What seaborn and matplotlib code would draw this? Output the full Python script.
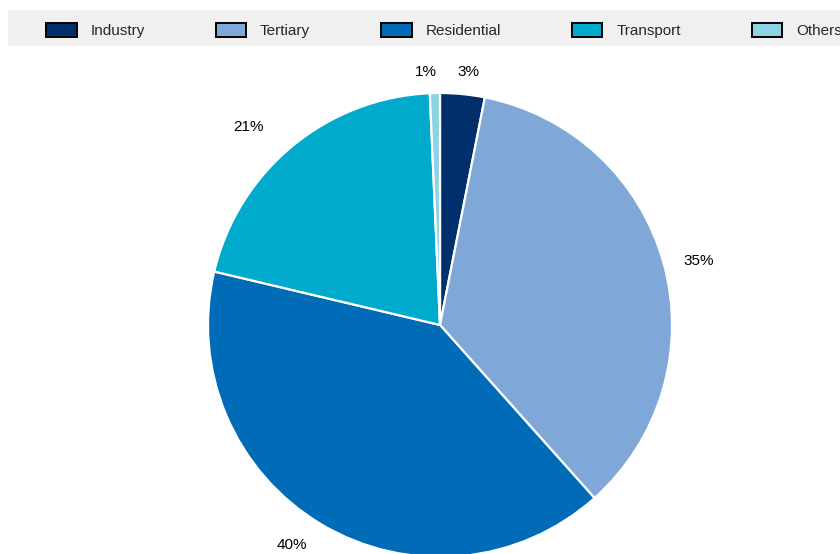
import matplotlib
matplotlib.use("Agg")
import matplotlib.pyplot as plt
from matplotlib.patches import Rectangle, Patch
import seaborn as sns

# Sector shares (%)
sectors = ["Industry", "Tertiary", "Residential", "Transport", "Others"]
shares = [3.1, 35.3, 40.3, 20.6, 0.7]
colors = ["#002F6C", "#7FA8D9", "#006BB6", "#00AACC", "#8CD3E6"]

sns.set_theme(style="white")
plt.rcParams["font.family"] = ["Liberation Sans", "DejaVu Sans"]

W, H = 840, 554
fig = plt.figure(figsize=(W / 100, H / 100), dpi=100)
fig.patch.set_facecolor("white")

# Pie axes: centre (440, 325) px, radius 232 px
cx, cy, r = 440, 325, 232
ax = fig.add_axes([(cx - r) / W, (H - cy - r) / H, 2 * r / W, 2 * r / H])
wedges, texts, autotexts = ax.pie(
    shares,
    colors=colors,
    startangle=90,
    counterclock=False,
    autopct="%.0f%%",
    pctdistance=1.11,
    wedgeprops=dict(edgecolor="white", linewidth=1.6),
    textprops=dict(fontsize=11, color="black"),
)
ax.set_aspect("equal")
ax.set_xlim(-1, 1)
ax.set_ylim(-1, 1)
ax.axis("off")

# Small pixel nudges for the percentage labels (dx right, dy up)
nudges = [(3, -3), (10, -4), (-16, 1), (-27, 0), (-8, -4)]
for t, (dx, dy) in zip(autotexts, nudges):
    x, y = t.get_position()
    t.set_position((x + dx / r, y + dy / r))

# Legend band across the top
band = Rectangle((8 / W, 1 - 46 / H), 1.0, 36 / H, transform=fig.transFigure,
                 facecolor="#f0f0f0", edgecolor="none", zorder=0)
fig.patches.append(band)

handles = [Patch(facecolor=c, edgecolor="black", linewidth=1.4) for c in colors]
fig.legend(
    handles, sectors,
    loc="center left",
    bbox_to_anchor=(46 / W, 1 - 30.5 / H),
    ncol=5,
    frameon=False,
    fontsize=11,
    handlelength=2.0,
    handleheight=1.0,
    handletextpad=0.9,
    columnspacing=4.65,
    borderpad=0,
    borderaxespad=0,
)

fig.savefig("out.png", dpi=100)
